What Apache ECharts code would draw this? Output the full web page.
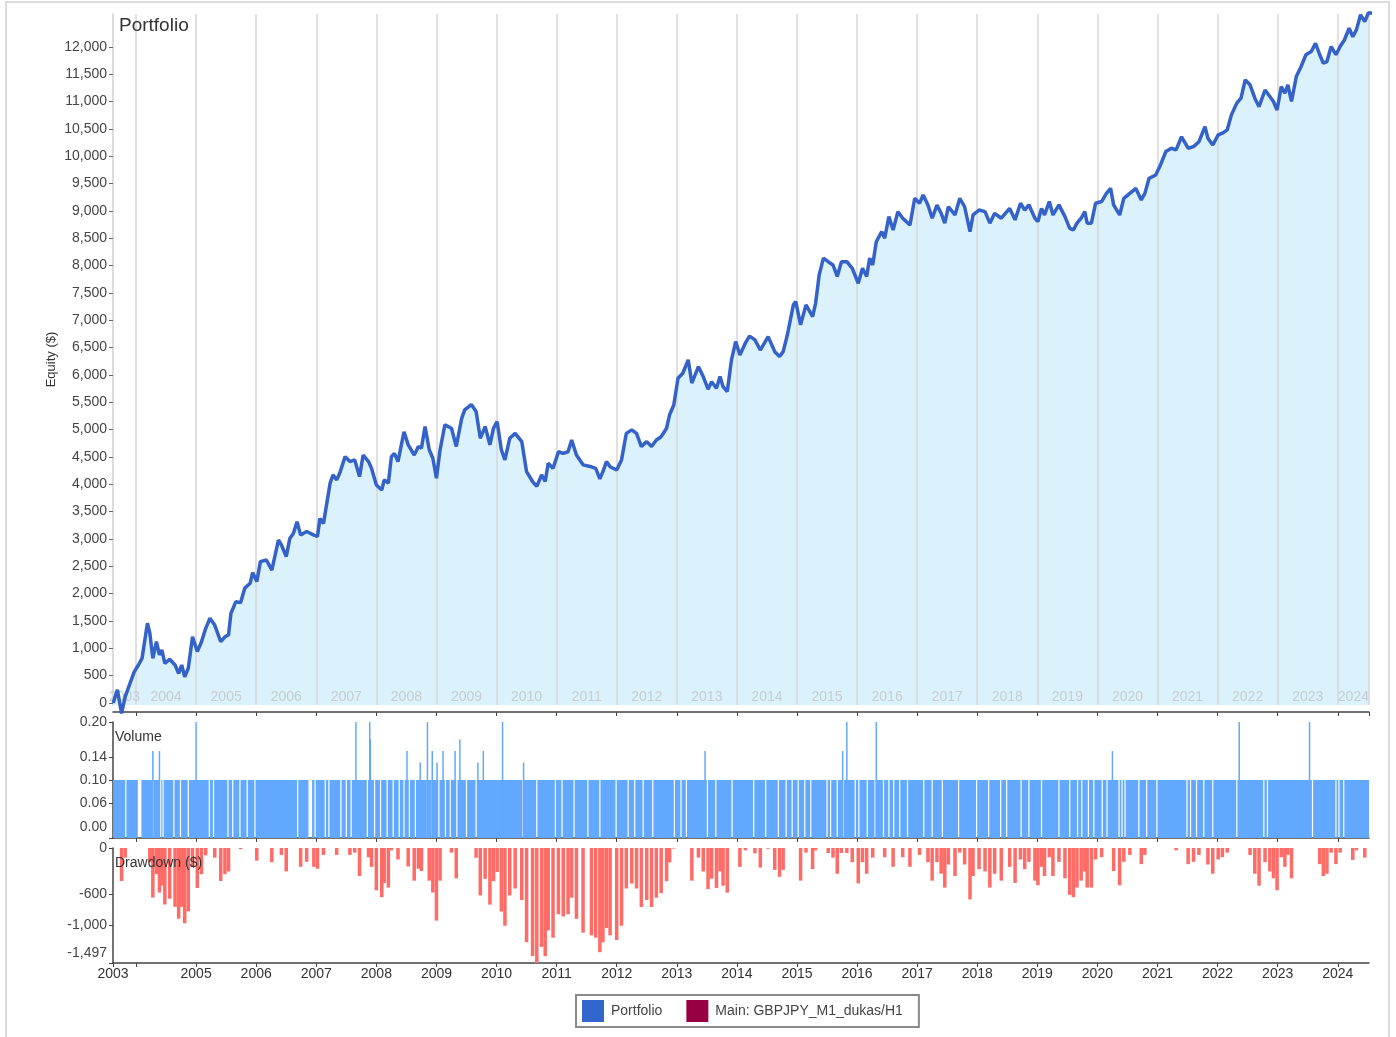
<!DOCTYPE html>
<html>
<head>
<meta charset="utf-8">
<script src="https://cdn.jsdelivr.net/npm/echarts@6/dist/echarts.min.js"></script>
<style>
  html, body { margin: 0; padding: 0; background: #fff; }
  #chart { width: 1396px; height: 1037px; }
</style>
</head>
<body>
<div id="chart"></div>
<script>
// x range in decimal years
const xMin = 2003.617
const xMax = 2024.52
const years = [2004, 2005, 2006, 2007, 2008, 2009, 2010, 2011, 2012, 2013, 2014,
  2015, 2016, 2017, 2018, 2019, 2020, 2021, 2022, 2023, 2024]

// equity curve (decimal year, $)
const eqYear = [
  2003.62, 2003.69, 2003.76, 2003.82, 2003.90, 2003.97, 2004.04, 2004.10, 2004.19, 2004.23,
  2004.28, 2004.34, 2004.39, 2004.43, 2004.48, 2004.56, 2004.65, 2004.71, 2004.76, 2004.81,
  2004.87, 2004.94, 2005.02, 2005.09, 2005.16, 2005.23, 2005.31, 2005.41, 2005.48, 2005.54,
  2005.58, 2005.66, 2005.74, 2005.81, 2005.90, 2005.94, 2006.01, 2006.07, 2006.17, 2006.26,
  2006.37, 2006.42, 2006.50, 2006.56, 2006.62, 2006.68, 2006.74, 2006.84, 2006.96, 2007.02,
  2007.06, 2007.12, 2007.23, 2007.28, 2007.34, 2007.39, 2007.48, 2007.56, 2007.64, 2007.72,
  2007.78, 2007.87, 2007.92, 2008.00, 2008.09, 2008.13, 2008.20, 2008.25, 2008.30, 2008.36,
  2008.46, 2008.53, 2008.63, 2008.70, 2008.75, 2008.81, 2008.88, 2008.94, 2009.00, 2009.06,
  2009.14, 2009.25, 2009.33, 2009.42, 2009.47, 2009.58, 2009.66, 2009.73, 2009.81, 2009.89,
  2009.95, 2010.01, 2010.08, 2010.14, 2010.22, 2010.31, 2010.42, 2010.50, 2010.60, 2010.67,
  2010.75, 2010.81, 2010.86, 2010.94, 2011.03, 2011.11, 2011.19, 2011.25, 2011.33, 2011.44,
  2011.58, 2011.65, 2011.72, 2011.77, 2011.83, 2011.89, 2012.00, 2012.08, 2012.16, 2012.25,
  2012.33, 2012.41, 2012.50, 2012.58, 2012.66, 2012.74, 2012.83, 2012.88, 2012.95, 2013.02,
  2013.10, 2013.19, 2013.25, 2013.36, 2013.44, 2013.52, 2013.58, 2013.66, 2013.72, 2013.77,
  2013.84, 2013.91, 2013.98, 2014.05, 2014.14, 2014.21, 2014.30, 2014.39, 2014.52, 2014.63,
  2014.71, 2014.77, 2014.84, 2014.94, 2014.98, 2015.06, 2015.15, 2015.26, 2015.31, 2015.37,
  2015.44, 2015.52, 2015.60, 2015.67, 2015.74, 2015.83, 2015.92, 2016.02, 2016.09, 2016.16,
  2016.21, 2016.26, 2016.32, 2016.41, 2016.46, 2016.53, 2016.60, 2016.68, 2016.76, 2016.88,
  2016.96, 2017.04, 2017.10, 2017.18, 2017.25, 2017.33, 2017.40, 2017.46, 2017.52, 2017.63,
  2017.71, 2017.79, 2017.88, 2017.93, 2018.03, 2018.13, 2018.21, 2018.29, 2018.40, 2018.54,
  2018.63, 2018.72, 2018.79, 2018.86, 2018.96, 2019.01, 2019.07, 2019.12, 2019.20, 2019.26,
  2019.36, 2019.46, 2019.54, 2019.60, 2019.66, 2019.73, 2019.79, 2019.83, 2019.90, 2019.97,
  2020.07, 2020.15, 2020.22, 2020.27, 2020.37, 2020.44, 2020.54, 2020.64, 2020.73, 2020.79,
  2020.86, 2020.97, 2021.05, 2021.14, 2021.23, 2021.31, 2021.40, 2021.51, 2021.60, 2021.69,
  2021.79, 2021.84, 2021.92, 2022.01, 2022.08, 2022.16, 2022.23, 2022.32, 2022.39, 2022.46,
  2022.54, 2022.62, 2022.69, 2022.79, 2022.87, 2022.93, 2022.99, 2023.06, 2023.12, 2023.17,
  2023.23, 2023.31, 2023.39, 2023.47, 2023.56, 2023.63, 2023.70, 2023.76, 2023.82, 2023.89,
  2023.97, 2024.04, 2024.11, 2024.19, 2024.25, 2024.31, 2024.38, 2024.45, 2024.51, 2024.70
]
const eqValue = [
  0, 240, -190, 115, 360, 570, 695, 815, 1460, 1275,
  815, 1120, 880, 970, 725, 800, 695, 540, 695, 480,
  635, 1210, 940, 1120, 1365, 1550, 1425, 1120, 1210, 1245,
  1640, 1850, 1835, 2100, 2190, 2385, 2220, 2585, 2615, 2430,
  2980, 2890, 2675, 3010, 3105, 3315, 3070, 3135, 3070, 3045,
  3375, 3285, 4020, 4170, 4080, 4200, 4505, 4415, 4445, 4140,
  4535, 4415, 4290, 3985, 3895, 4080, 4020, 4505, 4565, 4415,
  4960, 4720, 4535, 4690, 4660, 5055, 4630, 4475, 4110, 4630,
  5085, 5025, 4690, 5205, 5360, 5457, 5330, 4840, 5055, 4720,
  5025, 5145, 4630, 4445, 4840, 4930, 4780, 4230, 4050, 3960,
  4170, 4050, 4385, 4290, 4595, 4565, 4595, 4810, 4535, 4355,
  4320, 4290, 4100, 4230, 4415, 4320, 4260, 4445, 4930, 4995,
  4930, 4690, 4780, 4690, 4810, 4870, 5025, 5270, 5450, 5940,
  6030, 6275, 5850, 6150, 5970, 5740, 5875, 5755, 5970, 5785,
  5695, 6275, 6610, 6365, 6580, 6710, 6640, 6455, 6700, 6425,
  6335, 6425, 6730, 7280, 7340, 6915, 7280, 7065, 7310, 7830,
  8135, 8070, 8010, 7800, 8070, 8070, 7950, 7675, 7950, 7800,
  8135, 8010, 8435, 8620, 8500, 8895, 8650, 8985, 8865, 8740,
  9230, 9140, 9290, 9105, 8865, 9105, 8955, 8775, 9075, 8925,
  9230, 9075, 8620, 8925, 9015, 8985, 8775, 8955, 8865, 9045,
  8835, 9140, 9015, 9110, 8865, 8805, 9045, 8925, 9170, 8925,
  9110, 8895, 8680, 8650, 8775, 8865, 8985, 8775, 8775, 9140,
  9170, 9320, 9410, 9110, 8925, 9230, 9320, 9410, 9200, 9320,
  9595, 9655, 9840, 10085, 10145, 10115, 10355, 10145, 10175, 10265,
  10540, 10325, 10205, 10390, 10420, 10480, 10755, 10970, 11060, 11395,
  11305, 11060, 10905, 11210, 11090, 11000, 10845, 11275, 11150, 11305,
  11000, 11455, 11640, 11855, 11915, 12065, 11855, 11700, 11730, 12005,
  11855, 12005, 12125, 12340, 12185, 12310, 12585, 12460, 12620, 12620
]
const eqTicks = [0, 500, 1000, 1500, 2000, 2500, 3000, 3500, 4000, 4500, 5000, 5500, 6000,
  6500, 7000, 7500, 8000, 8500, 9000, 9500, 10000, 10500, 11000, 11500, 12000]

// volume: lots per trade, periods without trades, and larger trades
const volStart = 2003.62
const volEnd = 2024.52
const volLot = 0.10
const volGaps = [
  [2003.82, 2003.84], [2004.03, 2004.09], [2004.27, 2004.29], [2004.40, 2004.42], [2004.44, 2004.46],
  [2004.62, 2004.64], [2004.73, 2004.75], [2004.86, 2004.88], [2005.21, 2005.23], [2005.28, 2005.30],
  [2005.52, 2005.54], [2005.60, 2005.62], [2005.72, 2005.74], [2005.84, 2005.86], [2005.97, 2005.99],
  [2006.68, 2006.70], [2006.87, 2006.93], [2006.97, 2006.99], [2007.14, 2007.16], [2007.20, 2007.22],
  [2007.40, 2007.42], [2007.49, 2007.51], [2007.57, 2007.59], [2007.84, 2007.86], [2007.96, 2007.98],
  [2008.06, 2008.08], [2008.17, 2008.19], [2008.27, 2008.29], [2008.37, 2008.39], [2008.45, 2008.47],
  [2008.54, 2008.56], [2008.64, 2008.66], [2008.84, 2008.86], [2008.92, 2008.94], [2009.03, 2009.05],
  [2009.14, 2009.16], [2009.22, 2009.24], [2009.33, 2009.35], [2009.49, 2009.51], [2009.65, 2009.67],
  [2010.43, 2010.45], [2010.66, 2010.68], [2010.97, 2010.99], [2011.08, 2011.10], [2011.28, 2011.30],
  [2011.51, 2011.53], [2011.71, 2011.73], [2011.98, 2012.00], [2012.18, 2012.20], [2012.29, 2012.31],
  [2012.43, 2012.45], [2012.59, 2012.61], [2012.95, 2012.97], [2013.06, 2013.08], [2013.15, 2013.17],
  [2013.50, 2013.52], [2013.64, 2013.66], [2013.91, 2013.93], [2014.27, 2014.29], [2014.47, 2014.49],
  [2014.68, 2014.70], [2014.81, 2014.83], [2014.91, 2014.93], [2015.01, 2015.03], [2015.12, 2015.14],
  [2015.22, 2015.24], [2015.49, 2015.51], [2015.55, 2015.57], [2015.66, 2015.68], [2015.76, 2015.78],
  [2015.96, 2015.98], [2016.02, 2016.04], [2016.16, 2016.18], [2016.29, 2016.31], [2016.43, 2016.45],
  [2016.52, 2016.54], [2016.60, 2016.62], [2016.70, 2016.72], [2016.83, 2016.85], [2017.10, 2017.12],
  [2017.24, 2017.26], [2017.41, 2017.43], [2017.68, 2017.70], [2017.98, 2018.00], [2018.18, 2018.20],
  [2018.38, 2018.40], [2018.48, 2018.50], [2018.72, 2018.74], [2018.85, 2018.87], [2019.06, 2019.08],
  [2019.35, 2019.37], [2019.53, 2019.55], [2019.66, 2019.68], [2019.73, 2019.75], [2019.84, 2019.86],
  [2019.93, 2019.95], [2020.07, 2020.09], [2020.15, 2020.17], [2020.35, 2020.37], [2020.40, 2020.42],
  [2020.45, 2020.47], [2020.68, 2020.70], [2020.81, 2020.83], [2020.98, 2021.00], [2021.48, 2021.50],
  [2021.54, 2021.56], [2021.64, 2021.66], [2021.76, 2021.78], [2021.91, 2021.93], [2022.31, 2022.33],
  [2022.76, 2022.78], [2022.82, 2022.84], [2023.57, 2023.59], [2023.96, 2023.98], [2024.01, 2024.03],
  [2024.09, 2024.11]
]
const volSpikes = [
  [2004.28, 0.15], [2004.39, 0.15], [2005.00, 0.20], [2007.66, 0.20], [2007.89, 0.20], [2007.90, 0.17],
  [2008.51, 0.15], [2008.73, 0.13], [2008.85, 0.20], [2008.93, 0.15], [2009.01, 0.13], [2009.11, 0.15],
  [2009.31, 0.15], [2009.39, 0.17], [2009.69, 0.13], [2009.78, 0.15], [2010.10, 0.20], [2010.45, 0.13],
  [2013.47, 0.15], [2015.76, 0.15], [2015.83, 0.20], [2016.32, 0.20], [2020.25, 0.15], [2022.36, 0.20],
  [2023.53, 0.20]
]
const volTicks = [0, 0.06, 0.10, 0.14, 0.20]

const ddMin = -1497
const ddTicks = [0, -600, -1000, -1497]

// ---- derived series data ----
const equity = eqYear.map((y, i) => [y, eqValue[i]])

let peak = -Infinity
const drawdown = eqYear.map((y, i) => {
  peak = Math.max(peak, eqValue[i])
  return [y, eqValue[i] - peak]
})

const volBlocks = []
let from = volStart
volGaps.forEach(g => {
  volBlocks.push([from, g[0], volLot])
  from = g[1]
})
volBlocks.push([from, volEnd, volLot])

const bandCenters = [2003].concat(years).map(y => (Math.max(y, xMin) + Math.min(y + 1, xMax)) / 2)

const FONT = 'Arial, "Liberation Sans", sans-serif'
const fmt = v => Math.round(v).toLocaleString('en-US')

const chart = echarts.init(document.getElementById('chart'))

const baseX = {
  type: 'value',
  min: xMin,
  max: xMax,
  axisLine: { show: true, onZero: false, lineStyle: { color: '#444', width: 1.5 } },
  axisTick: { show: true, length: 4, customValues: years, lineStyle: { color: '#444' } },
  axisLabel: { show: false },
  splitLine: { show: false }
}

const option = {
  animation: false,
  backgroundColor: '#fff',
  textStyle: { fontFamily: FONT },
  graphic: [{
    type: 'rect',
    shape: { x: 6, y: 2, width: 1383, height: 1045 },
    style: { fill: 'none', stroke: '#dcdcdc', lineWidth: 2 },
    silent: true
  }],
  title: [
    { text: 'Portfolio', left: 119, top: 16, padding: 0,
      textStyle: { fontSize: 19, fontWeight: 'normal', color: '#333', fontFamily: FONT } },
    { text: 'Volume', left: 115, top: 730, padding: 0,
      textStyle: { fontSize: 14, fontWeight: 'normal', color: '#333', fontFamily: FONT } },
    { text: 'Drawdown ($)', left: 115, top: 856, padding: 0,
      textStyle: { fontSize: 14, fontWeight: 'normal', color: '#333', fontFamily: FONT } }
  ],
  legend: {
    left: 576,
    top: 995,
    data: ['Portfolio', 'Main: GBPJPY_M1_dukas/H1'],
    icon: 'rect',
    itemWidth: 22,
    itemHeight: 22,
    itemGap: 24,
    padding: [5, 16, 5, 6],
    borderColor: '#8a8a8a',
    borderWidth: 2,
    borderRadius: 0,
    textStyle: { fontSize: 14, color: '#444', fontFamily: FONT, padding: [0, 0, 0, 2] }
  },
  grid: [
    { left: 113, right: 27, top: 14, height: 691 },
    { left: 113, right: 27, top: 722, height: 116 },
    { left: 113, right: 27, top: 848, height: 115 }
  ],
  xAxis: [
    Object.assign({}, baseX, {
      gridIndex: 0,
      offset: 7,
      z: 4,
      axisTick: { show: true, length: 4, customValues: years.concat([xMax]), lineStyle: { color: '#444' } },
      axisLabel: {
        show: true, inside: true, margin: 8, customValues: bandCenters,
        formatter: v => String(Math.floor(v)),
        color: '#c6ccd0', fontSize: 14, fontFamily: FONT
      },
      splitLine: { show: true, lineStyle: { color: '#d6d6d6', width: 1.5 } }
    }),
    Object.assign({}, baseX, { gridIndex: 1 }),
    Object.assign({}, baseX, {
      gridIndex: 2,
      axisTick: { show: true, length: 4, customValues: [xMin].concat(years), lineStyle: { color: '#444' } },
      axisLabel: {
        show: true, margin: 4, customValues: [xMin].concat(years.slice(1)),
        formatter: v => String(Math.floor(v)),
        color: '#333', fontSize: 14, fontFamily: FONT
      }
    })
  ],
  yAxis: [
    {
      type: 'value', gridIndex: 0, min: -37, max: 12600,
      name: 'Equity ($)', nameLocation: 'middle', nameRotate: 90, nameGap: 55,
      nameMoveOverlap: false,
      nameTextStyle: { fontSize: 13, color: '#333', fontFamily: FONT },
      axisLine: { show: true, lineStyle: { color: '#cfcfcf', width: 1.5 } },
      axisTick: { show: true, length: 4, customValues: eqTicks, lineStyle: { color: '#666' } },
      axisLabel: { customValues: eqTicks, formatter: fmt, color: '#444', fontSize: 14, margin: 6, fontFamily: FONT },
      splitLine: { show: false }
    },
    {
      type: 'value', gridIndex: 1, min: 0, max: 0.2,
      axisLine: { show: true, lineStyle: { color: '#444', width: 1.5 } },
      axisTick: { show: true, length: 4, customValues: volTicks, lineStyle: { color: '#444' } },
      axisLabel: {
        customValues: volTicks, color: '#444', fontSize: 14, margin: 6, fontFamily: FONT,
        formatter: v => v === 0 ? '{up|0.00}' : v.toFixed(2),
        rich: { up: { fontSize: 14, color: '#444', fontFamily: FONT, padding: [0, 0, 22, 0] } }
      },
      splitLine: { show: false }
    },
    {
      type: 'value', gridIndex: 2, min: ddMin, max: 0,
      axisLine: { show: true, lineStyle: { color: '#444', width: 1.5 } },
      axisTick: { show: true, length: 4, customValues: ddTicks, lineStyle: { color: '#444' } },
      axisLabel: {
        customValues: ddTicks, color: '#444', fontSize: 14, margin: 6, fontFamily: FONT,
        formatter: v => v === ddMin ? '{up|' + fmt(v) + '}' : fmt(v),
        rich: { up: { fontSize: 14, color: '#444', fontFamily: FONT, padding: [0, 0, 20, 0] } }
      },
      splitLine: { show: false }
    }
  ],
  series: [
    {
      // fill under the equity curve, kept below the year grid lines
      name: 'Portfolio fill',
      type: 'line',
      xAxisIndex: 0,
      yAxisIndex: 0,
      data: equity,
      symbol: 'none',
      clip: false,
      z: 1,
      silent: true,
      lineStyle: { width: 0, opacity: 0 },
      areaStyle: { color: '#dbf2fd', origin: 'start', opacity: 1 }
    },
    {
      name: 'Portfolio',
      type: 'line',
      xAxisIndex: 0,
      yAxisIndex: 0,
      data: equity,
      symbol: 'none',
      clip: false,
      z: 10,
      itemStyle: { color: '#3366cc' },
      lineStyle: { color: '#3462c9', width: 3.5 }
    },
    {
      name: 'Main: GBPJPY_M1_dukas/H1',
      type: 'line',
      data: [],
      itemStyle: { color: '#990044' }
    },
    {
      name: 'Volume',
      type: 'custom',
      xAxisIndex: 1,
      yAxisIndex: 1,
      data: volBlocks,
      encode: { x: [0, 1], y: 2 },
      renderItem: (params, api) => {
        const p0 = api.coord([api.value(0), api.value(2)])
        const p1 = api.coord([api.value(1), 0])
        return {
          type: 'rect',
          shape: { x: p0[0], y: p0[1], width: p1[0] - p0[0], height: p1[1] - p0[1] },
          style: { fill: '#62a8fe' }
        }
      },
      silent: true
    },
    {
      name: 'Volume spikes',
      type: 'bar',
      xAxisIndex: 1,
      yAxisIndex: 1,
      data: volSpikes,
      barWidth: 1.5,
      itemStyle: { color: '#62a8fe' },
      silent: true
    },
    {
      name: 'Drawdown',
      type: 'bar',
      xAxisIndex: 2,
      yAxisIndex: 2,
      data: drawdown,
      barWidth: 3.5,
      itemStyle: { color: '#ff6b66' },
      silent: true
    }
  ]
}

chart.setOption(option)
</script>
</body>
</html>
